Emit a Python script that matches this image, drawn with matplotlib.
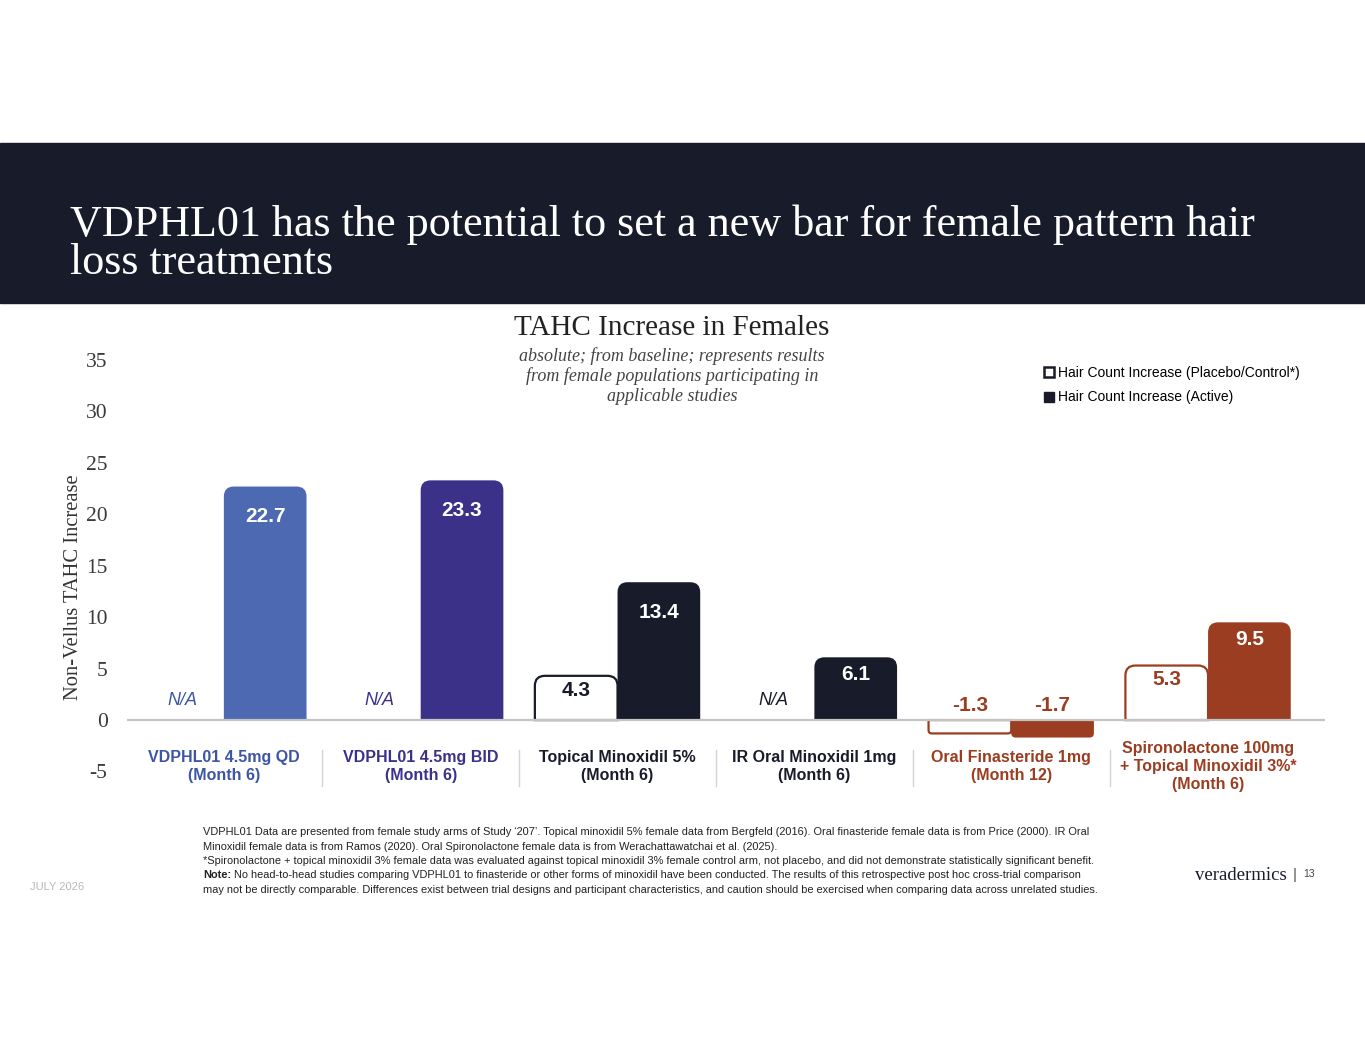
import numpy as np
import matplotlib.pyplot as plt
from matplotlib.path import Path
from matplotlib.patches import PathPatch, Rectangle
from matplotlib.lines import Line2D

# ---- data ----
categories = [
    "VDPHL01 4.5mg QD\n(Month 6)",
    "VDPHL01 4.5mg BID\n(Month 6)",
    "Topical Minoxidil 5%\n(Month 6)",
    "IR Oral Minoxidil 1mg\n(Month 6)",
    "Oral Finasteride 1mg\n(Month 12)",
    "Spironolactone 100mg\n+ Topical Minoxidil 3%*\n(Month 6)",
]
placebo = [np.nan, np.nan, 4.3, np.nan, -1.3, 5.3]
active = [22.7, 23.3, 13.4, 6.1, -1.7, 9.5]
yticks = [-5, 0, 5, 10, 15, 20, 25, 30, 35]
legend_labels = ["Hair Count Increase (Placebo/Control*)", "Hair Count Increase (Active)"]

bar_colors = ["#4c69b1", "#3b3189", "#181b2a", "#181b2a", "#9a3d21", "#9a3d21"]
text_colors = ["#3d55a5", "#3b3189", "#181b2a", "#181b2a", "#9a3d21", "#9a3d21"]
NAVY = "#181b2a"

SERIF = "Liberation Serif"
SANS = "Liberation Sans"

footnotes = [
    "VDPHL01 Data are presented from female study arms of Study \u2018207\u2019. Topical minoxidil 5% female data from Bergfeld (2016). "
    "Oral finasteride female data is from Price (2000). IR Oral",
    "Minoxidil female data is from Ramos (2020). Oral Spironolactone female data is from Werachattawatchai et al. (2025).",
    "*Spironolactone + topical minoxidil 3% female data was evaluated against topical minoxidil 3% female control arm, "
    "not placebo, and did not demonstrate statistically significant benefit.",
    "No head-to-head studies comparing VDPHL01 to finasteride or other forms of minoxidil have been conducted. "
    "The results of this retrospective post hoc cross-trial comparison",
    "may not be directly comparable. Differences exist between trial designs and participant characteristics, "
    "and caution should be exercised when comparing data across unrelated studies.",
]


def rounded(ax, patch, face, edge, lw, radius_px=10):
    """Swap a plain bar for one with rounded corners at its far end."""
    x0, y0 = patch.get_x(), patch.get_y()
    w, h = patch.get_width(), patch.get_height()
    if np.isnan(h):
        patch.remove()
        return
    p0 = ax.transData.transform((0, 0))
    p1 = ax.transData.transform((1, 1))
    ux, uy = p1[0] - p0[0], p1[1] - p0[1]
    r = min(radius_px, abs(h) * uy * 0.25)
    rx, ry = r / ux, r / uy
    s = 1 if h >= 0 else -1
    y1 = y0 + h
    verts = [(x0, y0), (x0, y1 - s * ry), (x0, y1), (x0 + rx, y1),
             (x0 + w - rx, y1), (x0 + w, y1), (x0 + w, y1 - s * ry),
             (x0 + w, y0), (x0, y0)]
    codes = [Path.MOVETO, Path.LINETO, Path.CURVE3, Path.CURVE3,
             Path.LINETO, Path.CURVE3, Path.CURVE3, Path.LINETO, Path.CLOSEPOLY]
    ax.add_patch(PathPatch(Path(verts, codes), facecolor=face, edgecolor=edge,
                           lw=lw, zorder=2))
    patch.remove()


fig = plt.figure(figsize=(13.65, 10.55), dpi=100)
fig.patch.set_facecolor("white")

# header band
fig.add_artist(Rectangle((0, 0.7128), 1, 0.1517, transform=fig.transFigure,
                         color=NAVY, zorder=0))
fig.text(70 / 1365, 1 - 244 / 1055,
         "VDPHL01 has the potential to set a new bar for female pattern hair\nloss treatments",
         color="white", family=SERIF, fontsize=31.8, va="center", ha="left",
         linespacing=0.92)

ax = fig.add_axes([127 / 1365, (1055 - 771.5) / 1055, 1198 / 1365, 411.5 / 1055])
ax.set_xlim(-0.492, 5.594)
ax.set_ylim(-5, 35)
for sp in ax.spines.values():
    sp.set_visible(False)
ax.set_xticks([])
ax.set_yticks(yticks)
ax.set_yticklabels([str(t) for t in yticks], family=SERIF, fontsize=15.5, color="#3a3a3a")
ax.tick_params(axis="y", length=0, pad=14)
ax.set_ylabel("Non-Vellus TAHC Increase", family=SERIF, fontsize=14.8, color="#333333")
ax.yaxis.set_label_coords(-44 / 1198, 0.447)

x = np.arange(len(categories))
bw = 0.42
pbars = ax.bar(x - bw / 2, placebo, bw)
abars = ax.bar(x + bw / 2, active, bw)
for i in range(len(categories)):
    rounded(ax, pbars[i], "white", bar_colors[i], 1.6)
    rounded(ax, abars[i], bar_colors[i], bar_colors[i], 0)

ax.axhline(0, color="#c4c4c4", lw=1.6, zorder=3)

# value labels
for i in range(len(categories)):
    v = active[i]
    if v < 0:
        ax.text(x[i] + bw / 2, 1.4, f"{v:.1f}", ha="center", va="center", family=SANS,
                fontweight="bold", fontsize=15, color=text_colors[i], zorder=4)
    else:
        off = 2.9 if v >= 10 else 1.7
        ax.text(x[i] + bw / 2, v - off, f"{v:.1f}", ha="center", va="center", family=SANS,
                fontweight="bold", fontsize=15, color="white", zorder=4)
    p = placebo[i]
    if np.isnan(p):
        ax.text(x[i] - bw / 2, 1.9, "N/A", ha="center", va="center", family=SANS,
                style="italic", fontsize=13, color=text_colors[i], zorder=4)
    elif p < 0:
        ax.text(x[i] - bw / 2, 1.4, f"{p:.1f}", ha="center", va="center", family=SANS,
                fontweight="bold", fontsize=15, color=text_colors[i], zorder=4)
    else:
        ax.text(x[i] - bw / 2, p - 1.4, f"{p:.1f}", ha="center", va="center", family=SANS,
                fontweight="bold", fontsize=15, color=text_colors[i], zorder=4)

# category labels and separators
for i, cat in enumerate(categories):
    ax.text(x[i], -4.55, cat, ha="center", va="center", family=SANS, fontweight="bold",
            fontsize=11.5, color=text_colors[i], linespacing=1.25, clip_on=False)
    if i < len(categories) - 1:
        ax.plot([x[i] + 0.5] * 2, [-2.9, -6.4], color="#d4d4d4", lw=1, clip_on=False)

# chart title
fig.text(672 / 1365, 1 - 328 / 1055, "TAHC Increase in Females", family=SERIF,
         fontsize=21, color="#222222", ha="center", va="center")
fig.text(672 / 1365, 1 - 376 / 1055,
         "absolute; from baseline; represents results\nfrom female populations participating in\napplicable studies",
         family=SERIF, style="italic", fontsize=13, color="#444444", ha="center", va="center",
         linespacing=1.16)

# legend
handles = [
    Line2D([], [], marker="s", ls="none", markerfacecolor="white", markeredgecolor=NAVY,
           markeredgewidth=1.8, markersize=7),
    Line2D([], [], marker="s", ls="none", markerfacecolor=NAVY, markeredgecolor=NAVY,
           markersize=7),
]
fig.legend(handles, legend_labels, loc="upper left",
           bbox_to_anchor=(1036 / 1365, 1 - 359 / 1055), frameon=False,
           prop={"family": SANS, "size": 10}, handlelength=0.8, handletextpad=0.3,
           labelspacing=0.75, borderpad=0)

# footnotes
fy = [832, 846.5, 861, 875.5, 890]
xs = 203 / 1365
for j, line in enumerate(footnotes):
    if j == 3:
        fig.text(xs, 1 - fy[j] / 1055, "Note:", family=SANS, fontweight="bold",
                 fontsize=7.9, color="#222222", va="center", ha="left")
        fig.text(xs + 31 / 1365, 1 - fy[j] / 1055, line, family=SANS, fontsize=7.9,
                 color="#222222", va="center", ha="left")
    else:
        fig.text(xs, 1 - fy[j] / 1055, line, family=SANS, fontsize=7.9,
                 color="#222222", va="center", ha="left")

fig.text(30 / 1365, 1 - 887 / 1055, "JULY 2026", family=SANS, fontsize=8,
         color="#b8b8b8", va="center", ha="left")
fig.text(1287 / 1365, 1 - 875 / 1055, "veradermics", family=SERIF, fontsize=13.5,
         color=NAVY, va="center", ha="right")
fig.text(1295 / 1365, 1 - 875 / 1055, "|", family=SANS, fontsize=11,
         color="#555555", va="center", ha="center")
fig.text(1303 / 1365, 1 - 874 / 1055, "13", family=SANS, fontsize=7.5,
         color="#444444", va="center", ha="left")

fig.savefig("out.png", dpi=100)
